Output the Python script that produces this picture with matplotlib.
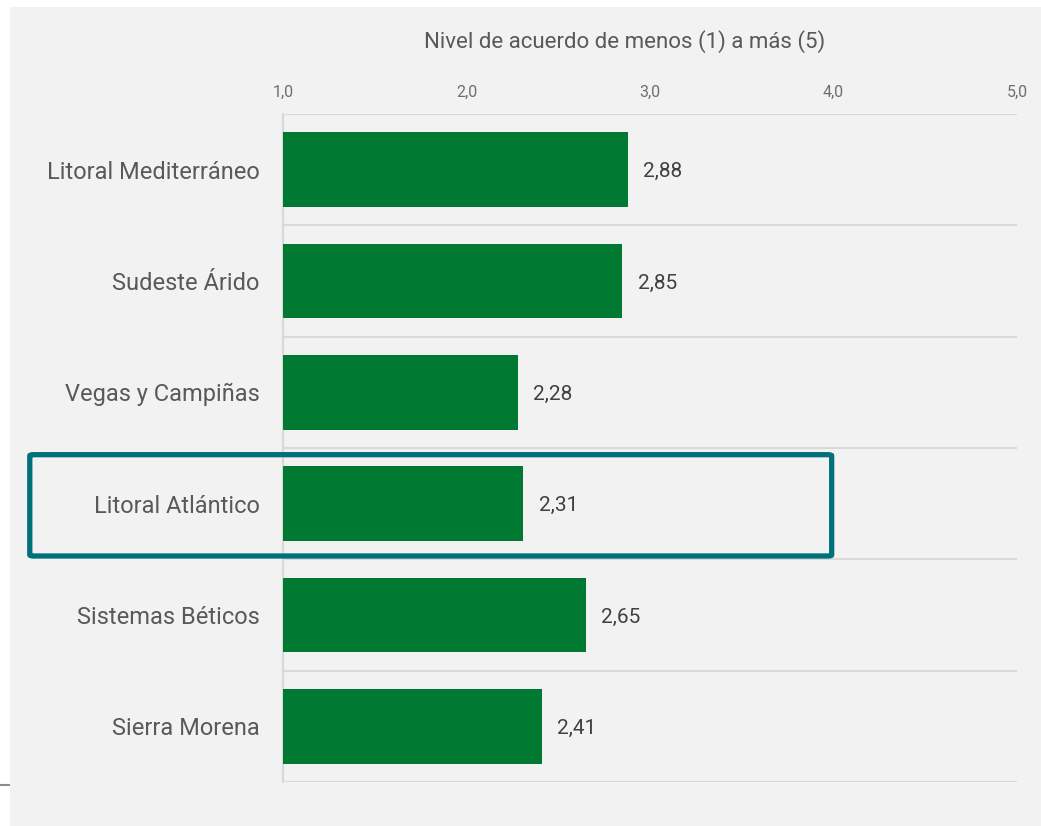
import numpy as np
import matplotlib.pyplot as plt
from matplotlib.patches import Rectangle, FancyBboxPatch
from matplotlib.lines import Line2D

plt.rcParams['font.family'] = ['Roboto', 'DejaVu Sans']

categories = ["Litoral Mediterráneo", "Sudeste Árido", "Vegas y Campiñas",
              "Litoral Atlántico", "Sistemas Béticos", "Sierra Morena"]
values = [2.88, 2.85, 2.28, 2.31, 2.65, 2.41]
xticks = [1.0, 2.0, 3.0, 4.0, 5.0]
xlabel = "Nivel de acuerdo de menos (1) a más (5)"
highlight = "Litoral Atlántico"

bg = '#f2f2f2'
green = '#007a33'
grid_col = '#d9d9d9'
text_col = '#595959'

W, H = 1041, 826
fig = plt.figure(figsize=(W / 100, H / 100), dpi=100, facecolor='white')
# grey panel behind everything (white strip at left and top)
fig.patches.append(Rectangle((10 / W, 0), 1 - 10 / W, 1 - 7 / H, transform=fig.transFigure,
                             facecolor=bg, edgecolor='none', zorder=-1))
fig.lines.append(Line2D([0, 10 / W], [1 - 785 / H, 1 - 785 / H], transform=fig.transFigure,
                        color='#8c8c8c', lw=1.5, zorder=-1))

ax = fig.add_axes([283 / W, 1 - 782 / H, (1017 - 283) / W, (782 - 114) / H])
ax.set_facecolor(bg)

y = np.arange(len(categories))
ax.barh(y, [v - 1.0 for v in values], left=1.0, height=0.67, color=green, zorder=3)

ax.set_xlim(1.0, 5.0)
ax.set_ylim(len(categories) - 0.5, -0.5)
ax.xaxis.tick_top()
ax.set_xticks(xticks)
ax.set_xticklabels([f"{t:.1f}".replace('.', ',') for t in xticks])
ax.tick_params(axis='x', length=0, pad=10, labelsize=11.5, labelcolor='#6e6e6e')
ax.set_yticks(y)
ax.set_yticklabels(categories, va='center_baseline')
ax.tick_params(axis='y', length=0, pad=17, labelsize=17, labelcolor=text_col)

for s in ['top', 'right', 'bottom']:
    ax.spines[s].set_visible(False)
ax.spines['left'].set_color(grid_col)
ax.spines['left'].set_linewidth(1.5)

for b in np.arange(-0.5, len(categories), 1.0):
    ax.axhline(b, color=grid_col, lw=1.5, zorder=1)

for yi, v in zip(y, values):
    ax.annotate(f"{v:.2f}".replace('.', ','), (v, yi), xytext=(11, 0),
                textcoords='offset points', va='center_baseline', ha='left',
                fontsize=15, color='#404040')

ax.text(0.466, 1.108, xlabel, transform=ax.transAxes, ha='center', va='center',
        fontsize=16, color=text_col)

# highlight box around one region
hi = categories.index(highlight)
box = FancyBboxPatch((-0.38, hi - 0.44), 4.37, 0.91, boxstyle='round,pad=0,rounding_size=0.02',
                     fill=False, edgecolor='#00707a', lw=3.8, clip_on=False, zorder=5,
                     mutation_aspect=1 / 1.7)
ax.add_patch(box)

fig.savefig('out.png', dpi=100, facecolor='white')
